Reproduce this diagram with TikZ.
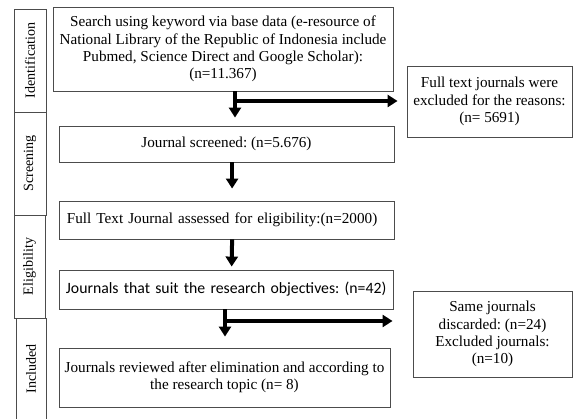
\documentclass[tikz,border=0pt]{standalone}
\usepackage{fontspec}
\setmainfont{Liberation Serif}
\newfontfamily\calibri{Carlito}
\usetikzlibrary{arrows.meta}

\tikzset{
  box/.style={draw=black!70, line width=0.6pt, inner sep=0pt, align=center, font=\frenchspacing\fontsize{10.8}{12.2}\selectfont},
  leftbox/.style={box, align=left, inner xsep=0.175cm},
  tab/.style={draw=black!70, line width=0.6pt, inner sep=0pt, rotate=90, minimum height=0.8cm},
  arr/.style={line width=0.1cm, -{Triangle[width=0.3cm,length=0.25cm]}}
}

\begin{document}
\begin{tikzpicture}[x=0.025cm,y=-0.025cm]
\useasboundingbox (0,0) rectangle (574,419);
% phase tabs on the left
\node[tab, minimum width=2.575cm] (ident) at (30,60.5) {Identification};
\node[tab, minimum width=2.575cm] (screen) at (30,163.5) {Screening};
\node[tab, minimum width=2.575cm, minimum height=0.775cm] (elig) at (29.5,266.5) {Eligibility};
\draw[draw=black!70, line width=0.6pt] (16,419) |- (46,318) -- (46,419);
\node[rotate=90] (incl) at (31,369) {Included};

% main column
\node[box, minimum width=8.5cm, minimum height=2.1cm] (search) at (223,49)
 {Search using keyword via base data (e-resource of\\ National Library of the Republic of Indonesia include\\ Pubmed, Science Direct and Google Scholar):\\ (n=11.367)};
\node[box, minimum width=8.375cm, minimum height=0.9cm] (screened) at (226.5,144)
 {Journal screened: (n=5.676)};
\node[leftbox, text width=7.975cm, inner xsep=0.2cm, minimum height=0.95cm] (fulltext) at (226.5,220)
 {Full Text Journal assessed for eligibility:(n=2000)};
\node[leftbox, text width=8cm, minimum height=0.975cm, font=\calibri\frenchspacing\fontsize{11.2}{13}\selectfont] (suit) at (226,289.5)
 {\mbox{Journals that suit the research objectives: (n=42)}};
\node[box, minimum width=8.275cm, minimum height=1.475cm] (reviewed) at (224.5,377.5)
 {Journals reviewed after elimination and according to\\ the research topic (n= 8)};

% excluded boxes
\node[box, minimum width=4.125cm, minimum height=1.775cm] (excl1) at (489.5,101.5)
 {Full text journals were\\ excluded for the reasons:\\ (n= 5691)};
\node[box, minimum width=3.975cm, minimum height=2.15cm] (excl2) at (492.5,334)
 {Same journals\\ discarded: (n=24)\\ Excluded journals:\\ (n=10)};

% arrows
\coordinate (j1) at (235,101);
\coordinate (j2) at (225,321);
\draw[arr, shorten >=0.2cm] (search.south -| j1) -- (screened.north -| j1);
\draw[arr, shorten >=0.225cm] (j1) -- (excl1.west |- j1);
\draw[arr, shorten >=0.3cm] ([xshift=0.14cm]screened.south) -- ([xshift=0.14cm]fulltext.north);
\draw[arr, shorten >=0.075cm] ([xshift=0.14cm]fulltext.south) -- ([xshift=0.14cm]suit.north);
\draw[arr, shorten >=0.275cm] (suit.south -| j2) -- (reviewed.north -| j2);
\draw[arr, shorten >=0.5cm] (j2) -- (excl2.west |- j2);
\end{tikzpicture}
\end{document}
